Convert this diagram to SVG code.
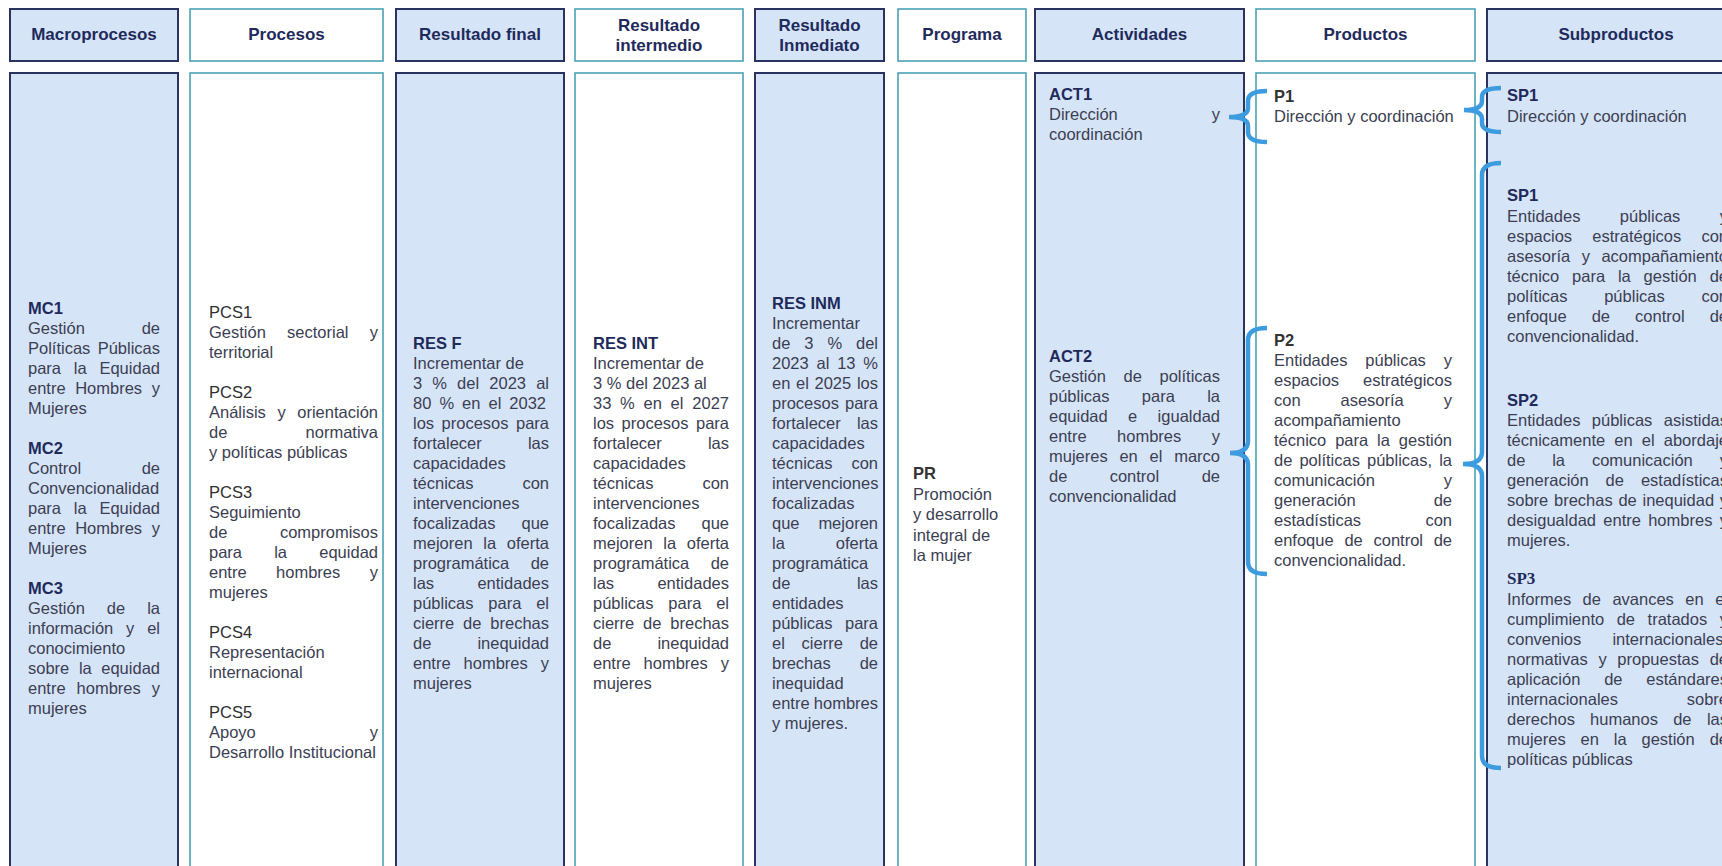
<svg xmlns="http://www.w3.org/2000/svg" width="1722" height="866" viewBox="0 0 1722 866">
<style>
.hb{fill:#d6e4f7;stroke:#2b3460;stroke-width:2}
.hw{fill:#ffffff;stroke:#4aa2b3;stroke-width:1.6}
.ht{font-family:"Liberation Sans",Arial,sans-serif;font-weight:700;font-size:17px;fill:#1f2a5c;text-anchor:middle}
.tt{font-family:"Liberation Sans",Arial,sans-serif;font-weight:700;font-size:16.5px;fill:#1f2a5c}
.tg{font-family:"Liberation Sans",Arial,sans-serif;font-size:16.5px;fill:#2e2e2e}
.ts{font-family:"Liberation Serif","Times New Roman",serif;font-weight:700;font-size:17px;fill:#1f2a5c}
.t{font-family:"Liberation Sans",Arial,sans-serif;font-size:16.5px;fill:#3b3e52}
.e{text-anchor:end}
.br{fill:none;stroke:#3d9be0;stroke-width:4.5}
</style>
<rect width="1722" height="866" fill="#ffffff"/>

<g id="macroprocesos">
<rect class="hb" x="10" y="9" width="168" height="52"/>
<text class="ht" x="94" y="40">Macroprocesos</text>
<rect class="hb" x="10" y="73" width="168" height="830"/>
<text class="tt" x="28" y="314">MC1</text>
<text class="t" x="28" y="334">Gestión</text><text class="t e" x="160" y="334">de</text>
<text class="t" x="28" y="354">Políticas</text><text class="t e" x="160" y="354">Públicas</text>
<text class="t" y="374"><tspan x="28">para</tspan><tspan x="73.8">la</tspan></text><text class="t e" x="160" y="374">Equidad</text>
<text class="t" y="394"><tspan x="28">entre</tspan><tspan x="75.2">Hombres</tspan></text><text class="t e" x="160" y="394">y</text>
<text class="t" x="28" y="414">Mujeres</text>
<text class="tt" x="28" y="454">MC2</text>
<text class="t" x="28" y="474">Control</text><text class="t e" x="160" y="474">de</text>
<text class="t" x="28" y="494">Convencionalidad</text>
<text class="t" y="514"><tspan x="28">para</tspan><tspan x="73.8">la</tspan></text><text class="t e" x="160" y="514">Equidad</text>
<text class="t" y="534"><tspan x="28">entre</tspan><tspan x="75.2">Hombres</tspan></text><text class="t e" x="160" y="534">y</text>
<text class="t" x="28" y="554">Mujeres</text>
<text class="tt" x="28" y="594">MC3</text>
<text class="t" y="614"><tspan x="28">Gestión</tspan><tspan x="106.8">de</tspan></text><text class="t e" x="160" y="614">la</text>
<text class="t" y="634"><tspan x="28">información</tspan><tspan x="126.1">y</tspan></text><text class="t e" x="160" y="634">el</text>
<text class="t" x="28" y="654">conocimiento</text>
<text class="t" y="674"><tspan x="28">sobre</tspan><tspan x="78.9">la</tspan></text><text class="t e" x="160" y="674">equidad</text>
<text class="t" y="694"><tspan x="28">entre</tspan><tspan x="76.6">hombres</tspan></text><text class="t e" x="160" y="694">y</text>
<text class="t" x="28" y="714">mujeres</text>
</g>

<g id="procesos">
<rect class="hw" x="190" y="9" width="193" height="52"/>
<text class="ht" x="286.5" y="40">Procesos</text>
<rect class="hw" x="190" y="73" width="193" height="830"/>
<text class="tg" x="209" y="318">PCS1</text>
<text class="t" y="338"><tspan x="209">Gestión</tspan><tspan x="287.1">sectorial</tspan></text><text class="t e" x="378" y="338">y</text>
<text class="t" x="209" y="358">territorial</text>
<text class="tg" x="209" y="398">PCS2</text>
<text class="t" y="418"><tspan x="209">Análisis</tspan><tspan x="277.4">y</tspan></text><text class="t e" x="378" y="418">orientación</text>
<text class="t" x="209" y="438">de</text><text class="t e" x="378" y="438">normativa</text>
<text class="t" x="209" y="458">y políticas públicas</text>
<text class="tg" x="209" y="498">PCS3</text>
<text class="t" x="209" y="518">Seguimiento</text>
<text class="t" x="209" y="538">de</text><text class="t e" x="378" y="538">compromisos</text>
<text class="t" y="558"><tspan x="209">para</tspan><tspan x="274.2">la</tspan></text><text class="t e" x="378" y="558">equidad</text>
<text class="t" y="578"><tspan x="209">entre</tspan><tspan x="276.1">hombres</tspan></text><text class="t e" x="378" y="578">y</text>
<text class="t" x="209" y="598">mujeres</text>
<text class="tg" x="209" y="638">PCS4</text>
<text class="t" x="209" y="658">Representación</text>
<text class="t" x="209" y="678">internacional</text>
<text class="tg" x="209" y="718">PCS5</text>
<text class="t" x="209" y="738">Apoyo</text><text class="t e" x="378" y="738">y</text>
<text class="t" x="209" y="758">Desarrollo Institucional</text>
</g>

<g id="resultado-final">
<rect class="hb" x="396" y="9" width="168" height="52"/>
<text class="ht" x="480" y="40">Resultado final</text>
<rect class="hb" x="396" y="73" width="168" height="830"/>
<text class="tt" x="413" y="349">RES F</text>
<text class="t" x="413" y="369">Incrementar de</text>
<text class="t" y="389"><tspan x="413">3</tspan><tspan x="432.3">%</tspan><tspan x="457.1">del</tspan><tspan x="489.3">2023</tspan></text><text class="t e" x="549" y="389">al</text>
<text class="t" y="409"><tspan x="413">80</tspan><tspan x="439.4">%</tspan><tspan x="462.1">en</tspan><tspan x="488.5">el</tspan></text><text class="t e" x="546" y="409">2032</text>
<text class="t" y="429"><tspan x="413">los</tspan><tspan x="441.6">procesos</tspan></text><text class="t e" x="549" y="429">para</text>
<text class="t" x="413" y="449">fortalecer</text><text class="t e" x="549" y="449">las</text>
<text class="t" x="413" y="469">capacidades</text>
<text class="t" x="413" y="489">técnicas</text><text class="t e" x="549" y="489">con</text>
<text class="t" x="413" y="509">intervenciones</text>
<text class="t" x="413" y="529">focalizadas</text><text class="t e" x="549" y="529">que</text>
<text class="t" y="549"><tspan x="413">mejoren</tspan><tspan x="483.3">la</tspan></text><text class="t e" x="549" y="549">oferta</text>
<text class="t" x="413" y="569">programática</text><text class="t e" x="549" y="569">de</text>
<text class="t" x="413" y="589">las</text><text class="t e" x="549" y="589">entidades</text>
<text class="t" y="609"><tspan x="413">públicas</tspan><tspan x="488.3">para</tspan></text><text class="t e" x="549" y="609">el</text>
<text class="t" y="629"><tspan x="413">cierre</tspan><tspan x="463.1">de</tspan></text><text class="t e" x="549" y="629">brechas</text>
<text class="t" x="413" y="649">de</text><text class="t e" x="549" y="649">inequidad</text>
<text class="t" y="669"><tspan x="413">entre</tspan><tspan x="463.6">hombres</tspan></text><text class="t e" x="549" y="669">y</text>
<text class="t" x="413" y="689">mujeres</text>
</g>

<g id="resultado-intermedio">
<rect class="hw" x="575" y="9" width="168" height="52"/>
<text class="ht" x="659" y="31">Resultado</text>
<text class="ht" x="659" y="51">intermedio</text>
<rect class="hw" x="575" y="73" width="168" height="830"/>
<text class="tt" x="593" y="349">RES INT</text>
<text class="t" x="593" y="369">Incrementar de</text>
<text class="t" x="593" y="389">3 % del 2023 al</text>
<text class="t" y="409"><tspan x="593">33</tspan><tspan x="620.1">%</tspan><tspan x="643.5">en</tspan><tspan x="670.6">el</tspan></text><text class="t e" x="729" y="409">2027</text>
<text class="t" y="429"><tspan x="593">los</tspan><tspan x="621.6">procesos</tspan></text><text class="t e" x="729" y="429">para</text>
<text class="t" x="593" y="449">fortalecer</text><text class="t e" x="729" y="449">las</text>
<text class="t" x="593" y="469">capacidades</text>
<text class="t" x="593" y="489">técnicas</text><text class="t e" x="729" y="489">con</text>
<text class="t" x="593" y="509">intervenciones</text>
<text class="t" x="593" y="529">focalizadas</text><text class="t e" x="729" y="529">que</text>
<text class="t" y="549"><tspan x="593">mejoren</tspan><tspan x="663.3">la</tspan></text><text class="t e" x="729" y="549">oferta</text>
<text class="t" x="593" y="569">programática</text><text class="t e" x="729" y="569">de</text>
<text class="t" x="593" y="589">las</text><text class="t e" x="729" y="589">entidades</text>
<text class="t" y="609"><tspan x="593">públicas</tspan><tspan x="668.3">para</tspan></text><text class="t e" x="729" y="609">el</text>
<text class="t" y="629"><tspan x="593">cierre</tspan><tspan x="643.1">de</tspan></text><text class="t e" x="729" y="629">brechas</text>
<text class="t" x="593" y="649">de</text><text class="t e" x="729" y="649">inequidad</text>
<text class="t" y="669"><tspan x="593">entre</tspan><tspan x="643.6">hombres</tspan></text><text class="t e" x="729" y="669">y</text>
<text class="t" x="593" y="689">mujeres</text>
</g>

<g id="resultado-inmediato">
<rect class="hb" x="755" y="9" width="129" height="52"/>
<text class="ht" x="819.5" y="31">Resultado</text>
<text class="ht" x="819.5" y="51">Inmediato</text>
<rect class="hb" x="755" y="73" width="129" height="830"/>
<text class="tt" x="772" y="309">RES INM</text>
<text class="t" x="772" y="329">Incrementar</text>
<text class="t" y="349"><tspan x="772">de</tspan><tspan x="804.3">3</tspan><tspan x="827.4">%</tspan></text><text class="t e" x="878" y="349">del</text>
<text class="t" y="369"><tspan x="772">2023</tspan><tspan x="816.5">al</tspan><tspan x="837.2">13</tspan></text><text class="t e" x="878" y="369">%</text>
<text class="t" y="389"><tspan x="772">en</tspan><tspan x="796">el</tspan><tspan x="814.5">2025</tspan></text><text class="t e" x="878" y="389">los</text>
<text class="t" x="772" y="409">procesos</text><text class="t e" x="878" y="409">para</text>
<text class="t" x="772" y="429">fortalecer</text><text class="t e" x="878" y="429">las</text>
<text class="t" x="772" y="449">capacidades</text>
<text class="t" x="772" y="469">técnicas</text><text class="t e" x="878" y="469">con</text>
<text class="t" x="772" y="489">intervenciones</text>
<text class="t" x="772" y="509">focalizadas</text>
<text class="t" x="772" y="529">que</text><text class="t e" x="878" y="529">mejoren</text>
<text class="t" x="772" y="549">la</text><text class="t e" x="878" y="549">oferta</text>
<text class="t" x="772" y="569">programática</text>
<text class="t" x="772" y="589">de</text><text class="t e" x="878" y="589">las</text>
<text class="t" x="772" y="609">entidades</text>
<text class="t" x="772" y="629">públicas</text><text class="t e" x="878" y="629">para</text>
<text class="t" y="649"><tspan x="772">el</tspan><tspan x="801.6">cierre</tspan></text><text class="t e" x="878" y="649">de</text>
<text class="t" x="772" y="669">brechas</text><text class="t e" x="878" y="669">de</text>
<text class="t" x="772" y="689">inequidad</text>
<text class="t" x="772" y="709">entre</text><text class="t e" x="878" y="709">hombres</text>
<text class="t" x="772" y="729">y mujeres.</text>
</g>

<g id="programa">
<rect class="hw" x="898" y="9" width="128" height="52"/>
<text class="ht" x="962" y="40">Programa</text>
<rect class="hw" x="898" y="73" width="128" height="830"/>
<text class="tt" x="913" y="479" style="fill:#333">PR</text>
<text class="t" x="913" y="500">Promoción</text>
<text class="t" x="913" y="520">y desarrollo</text>
<text class="t" x="913" y="541">integral de</text>
<text class="t" x="913" y="561">la mujer</text>
</g>

<g id="actividades">
<rect class="hb" x="1035" y="9" width="209" height="52"/>
<text class="ht" x="1139.5" y="40">Actividades</text>
<rect class="hb" x="1035" y="73" width="209" height="830"/>
<text class="tt" x="1049" y="100">ACT1</text>
<text class="t" x="1049" y="120">Dirección</text><text class="t e" x="1220" y="120">y</text>
<text class="t" x="1049" y="140">coordinación</text>
<text class="tt" x="1049" y="362">ACT2</text>
<text class="t" y="382"><tspan x="1049">Gestión</tspan><tspan x="1123.5">de</tspan></text><text class="t e" x="1220" y="382">políticas</text>
<text class="t" y="402"><tspan x="1049">públicas</tspan><tspan x="1141.8">para</tspan></text><text class="t e" x="1220" y="402">la</text>
<text class="t" y="422"><tspan x="1049">equidad</tspan><tspan x="1128.1">e</tspan></text><text class="t e" x="1220" y="422">igualdad</text>
<text class="t" y="442"><tspan x="1049">entre</tspan><tspan x="1117.1">hombres</tspan></text><text class="t e" x="1220" y="442">y</text>
<text class="t" y="462"><tspan x="1049">mujeres</tspan><tspan x="1119.4">en</tspan><tspan x="1149.5">el</tspan></text><text class="t e" x="1220" y="462">marco</text>
<text class="t" y="482"><tspan x="1049">de</tspan><tspan x="1109.7">control</tspan></text><text class="t e" x="1220" y="482">de</text>
<text class="t" x="1049" y="502">convencionalidad</text>
</g>

<g id="productos">
<rect class="hw" x="1256" y="9" width="219" height="52"/>
<text class="ht" x="1365.5" y="40">Productos</text>
<rect class="hw" x="1256" y="73" width="219" height="830"/>
<text class="tt" x="1274" y="102" style="fill:#333">P1</text>
<text class="t" x="1274" y="122">Dirección y coordinación</text>
<text class="tt" x="1274" y="346" style="fill:#333">P2</text>
<text class="t" y="366"><tspan x="1274">Entidades</tspan><tspan x="1365.3">públicas</tspan></text><text class="t e" x="1452" y="366">y</text>
<text class="t" x="1274" y="386">espacios</text><text class="t e" x="1452" y="386">estratégicos</text>
<text class="t" y="406"><tspan x="1274">con</tspan><tspan x="1340.5">asesoría</tspan></text><text class="t e" x="1452" y="406">y</text>
<text class="t" x="1274" y="426">acompañamiento</text>
<text class="t" y="446"><tspan x="1274">técnico</tspan><tspan x="1335.2">para</tspan><tspan x="1377.1">la</tspan></text><text class="t e" x="1452" y="446">gestión</text>
<text class="t" y="466"><tspan x="1274">de</tspan><tspan x="1299.4">políticas</tspan><tspan x="1367">públicas,</tspan></text><text class="t e" x="1452" y="466">la</text>
<text class="t" x="1274" y="486">comunicación</text><text class="t e" x="1452" y="486">y</text>
<text class="t" x="1274" y="506">generación</text><text class="t e" x="1452" y="506">de</text>
<text class="t" x="1274" y="526">estadísticas</text><text class="t e" x="1452" y="526">con</text>
<text class="t" y="546"><tspan x="1274">enfoque</tspan><tspan x="1344.4">de</tspan><tspan x="1373.5">control</tspan></text><text class="t e" x="1452" y="546">de</text>
<text class="t" x="1274" y="566">convencionalidad.</text>
</g>

<g id="subproductos">
<rect class="hb" x="1487" y="9" width="260" height="52"/>
<text class="ht" x="1616" y="40">Subproductos</text>
<rect class="hb" x="1487" y="73" width="260" height="830"/>
<text class="tt" x="1507" y="101">SP1</text>
<text class="t" x="1507" y="122">Dirección y coordinación</text>
<text class="tt" x="1507" y="201">SP1</text>
<text class="t" y="222"><tspan x="1507">Entidades</tspan><tspan x="1619.8">públicas</tspan></text><text class="t e" x="1728" y="222">y</text>
<text class="t" y="242"><tspan x="1507">espacios</tspan><tspan x="1592.3">estratégicos</tspan></text><text class="t e" x="1728" y="242">con</text>
<text class="t" y="262"><tspan x="1507">asesoría</tspan><tspan x="1581.7">y</tspan></text><text class="t e" x="1728" y="262">acompañamiento</text>
<text class="t" y="282"><tspan x="1507">técnico</tspan><tspan x="1572.1">para</tspan><tspan x="1617.9">la</tspan><tspan x="1643.6">gestión</tspan></text><text class="t e" x="1728" y="282">de</text>
<text class="t" y="302"><tspan x="1507">políticas</tspan><tspan x="1604.2">públicas</tspan></text><text class="t e" x="1728" y="302">con</text>
<text class="t" y="322"><tspan x="1507">enfoque</tspan><tspan x="1591.7">de</tspan><tspan x="1635.1">control</tspan></text><text class="t e" x="1728" y="322">de</text>
<text class="t" x="1507" y="342">convencionalidad.</text>
<text class="tt" x="1507" y="406">SP2</text>
<text class="t" y="426"><tspan x="1507">Entidades</tspan><tspan x="1591.8">públicas</tspan></text><text class="t e" x="1728" y="426">asistidas</text>
<text class="t" y="446"><tspan x="1507">técnicamente</tspan><tspan x="1614.3">en</tspan><tspan x="1641.8">el</tspan></text><text class="t e" x="1728" y="446">abordaje</text>
<text class="t" y="466"><tspan x="1507">de</tspan><tspan x="1552.2">la</tspan><tspan x="1591.9">comunicación</tspan></text><text class="t e" x="1728" y="466">y</text>
<text class="t" y="486"><tspan x="1507">generación</tspan><tspan x="1605.6">de</tspan></text><text class="t e" x="1728" y="486">estadísticas</text>
<text class="t" y="506"><tspan x="1507">sobre</tspan><tspan x="1554">brechas</tspan><tspan x="1618.4">de</tspan><tspan x="1642.5">inequidad</tspan></text><text class="t e" x="1728" y="506">y</text>
<text class="t" y="526"><tspan x="1507">desigualdad</tspan><tspan x="1603.3">entre</tspan><tspan x="1648.2">hombres</tspan></text><text class="t e" x="1728" y="526">y</text>
<text class="t" x="1507" y="546">mujeres.</text>
<text class="ts" x="1507" y="584">SP3</text>
<text class="t" y="605"><tspan x="1507">Informes</tspan><tspan x="1582.6">de</tspan><tspan x="1612.4">avances</tspan><tspan x="1685.3">en</tspan></text><text class="t e" x="1728" y="605">el</text>
<text class="t" y="625"><tspan x="1507">cumplimiento</tspan><tspan x="1616.7">de</tspan><tspan x="1647.6">tratados</tspan></text><text class="t e" x="1728" y="625">y</text>
<text class="t" x="1507" y="645">convenios</text><text class="t e" x="1728" y="645">internacionales,</text>
<text class="t" y="665"><tspan x="1507">normativas</tspan><tspan x="1598.4">y</tspan><tspan x="1617.3">propuestas</tspan></text><text class="t e" x="1728" y="665">de</text>
<text class="t" y="685"><tspan x="1507">aplicación</tspan><tspan x="1604.2">de</tspan></text><text class="t e" x="1728" y="685">estándares</text>
<text class="t" x="1507" y="705">internacionales</text><text class="t e" x="1728" y="705">sobre</text>
<text class="t" y="725"><tspan x="1507">derechos</tspan><tspan x="1590.1">humanos</tspan><tspan x="1673.2">de</tspan></text><text class="t e" x="1728" y="725">las</text>
<text class="t" y="745"><tspan x="1507">mujeres</tspan><tspan x="1580.6">en</tspan><tspan x="1613.8">la</tspan><tspan x="1641.5">gestión</tspan></text><text class="t e" x="1728" y="745">de</text>
<text class="t" x="1507" y="765">políticas públicas</text>
</g>

<g id="connectors">
<path class="br" d="M1267,91 Q1248,91 1248,101 L1248,108 Q1248,117 1229,117 Q1248,117 1248,126 L1248,132 Q1248,142 1267,142"/>
<path class="br" d="M1267,328 Q1248,328 1248,340 L1248,441 Q1248,453 1230,453 Q1248,453 1248,465 L1248,562 Q1248,574 1267,574"/>
<path class="br" d="M1501,88 Q1482,88 1482,97 L1482,101 Q1482,110 1464,110 Q1482,110 1482,119 L1482,123 Q1482,132 1501,132"/>
<path class="br" d="M1501,163 Q1482,163 1482,175 L1482,452 Q1482,464 1463,464 Q1482,464 1482,476 L1482,756 Q1482,768 1501,768"/>
</g>
</svg>
